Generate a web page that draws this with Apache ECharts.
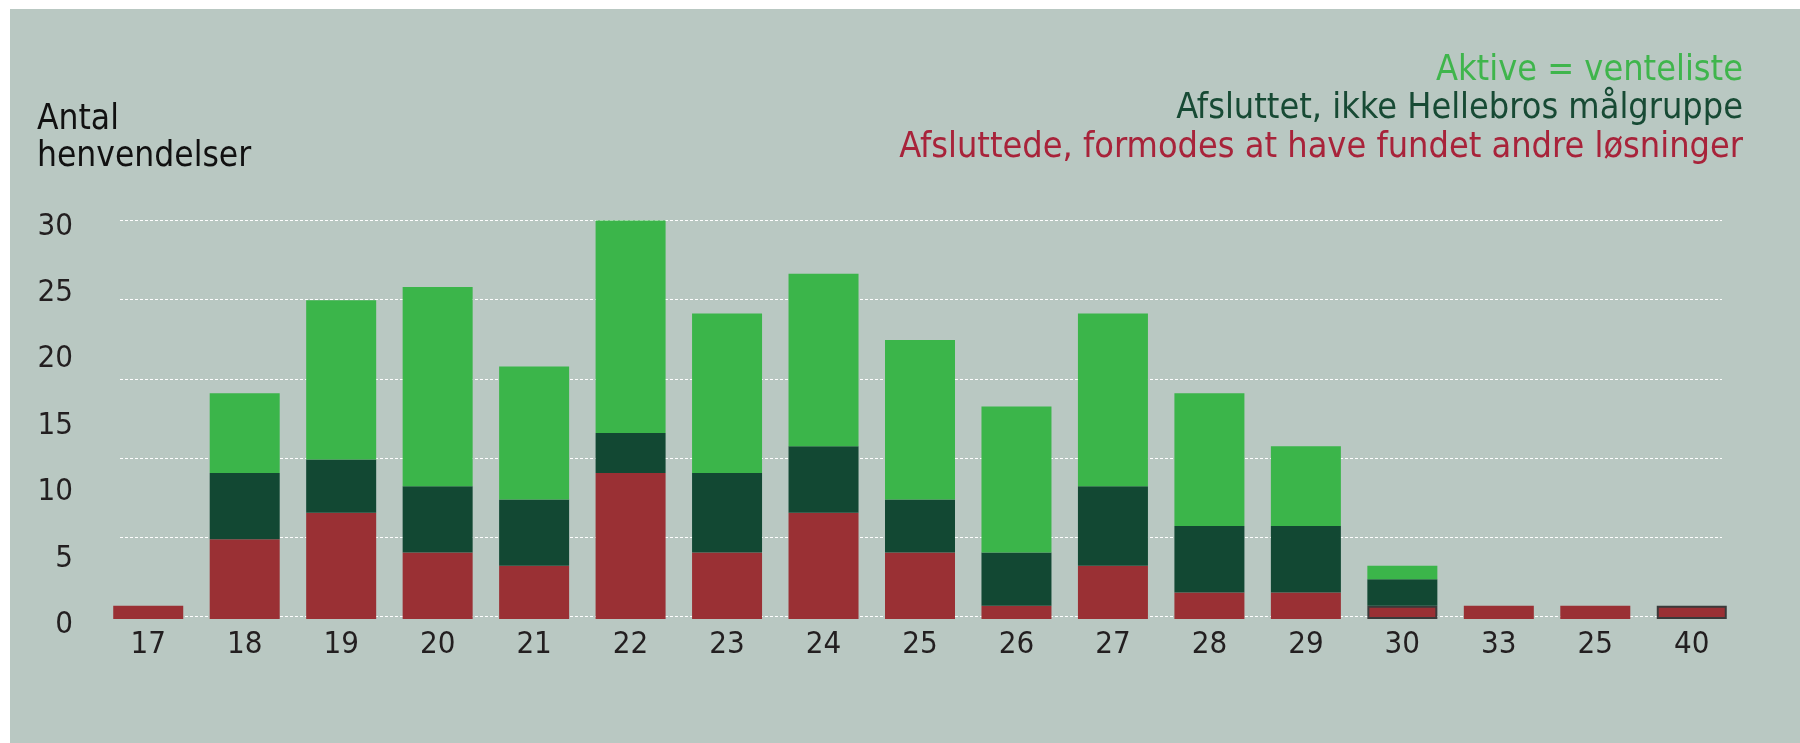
<!DOCTYPE html>
<html>
<head>
<meta charset="utf-8">
<script src="https://cdn.jsdelivr.net/npm/echarts@6/dist/echarts.min.js"></script>
<style>
  html, body { margin: 0; padding: 0; background: #ffffff; }
  #chart { width: 1800px; height: 743px; }
</style>
</head>
<body>
<div id="chart"></div>
<script>
// ---- data ----
const categories = ['17', '18', '19', '20', '21', '22', '23', '24', '25', '26', '27', '28', '29', '30', '33', '25', '40'];
const losninger = [1, 6, 8, 5, 4, 11, 5, 8, 5, 1, 4, 2, 2, 1, 1, 1, 1];   // Afsluttede, formodes at have fundet andre løsninger
const ikkeMaalgruppe = [0, 5, 4, 5, 5, 3, 6, 5, 4, 4, 6, 5, 5, 2, 0, 0, 0]; // Afsluttet, ikke Hellebros målgruppe
const aktive = [0, 6, 12, 15, 10, 16, 12, 13, 12, 11, 13, 10, 6, 1, 0, 0, 0]; // Aktive = venteliste
const outlinedIdx = [13, 16];
const yTicks = [0, 5, 10, 15, 20, 25, 30];
const seriesNames = [
  'Aktive = venteliste',
  'Afsluttet, ikke Hellebros målgruppe',
  'Afsluttede, formodes at have fundet andre løsninger'
];
const yTitle = 'Antal\nhenvendelser';

// ---- styles ----
const FONT = "'DejaVu Sans Condensed', 'DejaVu Sans', sans-serif";
const TXT = '#231f20';
const C_GREEN = '#3bb54a';
const C_DARK = '#124833';
const C_RED = '#9a3034';
const L_GREEN = '#3fb54c';
const L_DARK = '#174a34';
const L_RED = '#a8233a';

const chart = echarts.init(document.getElementById('chart'), null, { renderer: 'canvas' });

const redData = losninger.map((v, i) => outlinedIdx.indexOf(i) >= 0
  ? { value: v, itemStyle: { borderColor: '#3a3a3a', borderWidth: 2 } }
  : v);

const legendText = (name, color, top) => ({
  text: name, right: 57, top: top, padding: 0,
  textStyle: { fontFamily: FONT, fontSize: 35.75, fontWeight: 'normal', color: color, lineHeight: 36 }
});

const option = {
  animation: false,
  backgroundColor: 'transparent',
  graphic: [{
    type: 'rect', z: -100, silent: true,
    shape: { x: 10, y: 9, width: 1790, height: 734 },
    style: { fill: '#b9c8c2' }
  }],
  title: [
    { text: yTitle, left: 37, top: 101.5, padding: 0, textStyle: { fontFamily: FONT, fontSize: 35, fontWeight: 'normal', color: '#111111', lineHeight: 37 } },
    legendText(seriesNames[0], L_GREEN, 53.2),
    legendText(seriesNames[1], L_DARK, 91.2),
    legendText(seriesNames[2], L_RED, 130.2)
  ],
  grid: [
    { left: 100, right: 60, top: 220.5, bottom: 124, containLabel: false },
    { left: 120, right: 78, top: 220.5, bottom: 126.5, containLabel: false }
  ],
  xAxis: [
    {
      type: 'category', gridIndex: 0, data: categories,
      axisLine: { show: false }, axisTick: { show: false },
      axisLabel: { fontFamily: FONT, fontSize: 31, color: TXT, margin: 10 }
    },
    { type: 'value', gridIndex: 1, show: false, min: 0, max: 1 }
  ],
  yAxis: [
    {
      type: 'value', gridIndex: 0, min: yTicks[0], max: yTicks[yTicks.length - 1], interval: 5,
      axisLine: { show: false }, axisTick: { show: false }, splitLine: { show: false },
      axisLabel: { fontFamily: FONT, fontSize: 31, color: TXT, margin: 27, verticalAlign: 'top', lineHeight: 12 }
    },
    {
      type: 'value', gridIndex: 1, min: 0, max: 30, interval: 6,
      axisLine: { show: false }, axisTick: { show: false }, axisLabel: { show: false },
      splitLine: { show: true, lineStyle: { color: '#ffffff', width: 1, type: [3, 2] } }
    }
  ],
  series: [
    { name: seriesNames[2], type: 'bar', stack: 'a', barWidth: 70, xAxisIndex: 0, yAxisIndex: 0, z: 3, itemStyle: { color: C_RED }, data: redData },
    { name: seriesNames[1], type: 'bar', stack: 'a', barWidth: 70, xAxisIndex: 0, yAxisIndex: 0, z: 3, itemStyle: { color: C_DARK }, data: ikkeMaalgruppe },
    { name: seriesNames[0], type: 'bar', stack: 'a', barWidth: 70, xAxisIndex: 0, yAxisIndex: 0, z: 3, itemStyle: { color: C_GREEN }, data: aktive }
  ]
};
chart.setOption(option);
</script>
</body>
</html>
